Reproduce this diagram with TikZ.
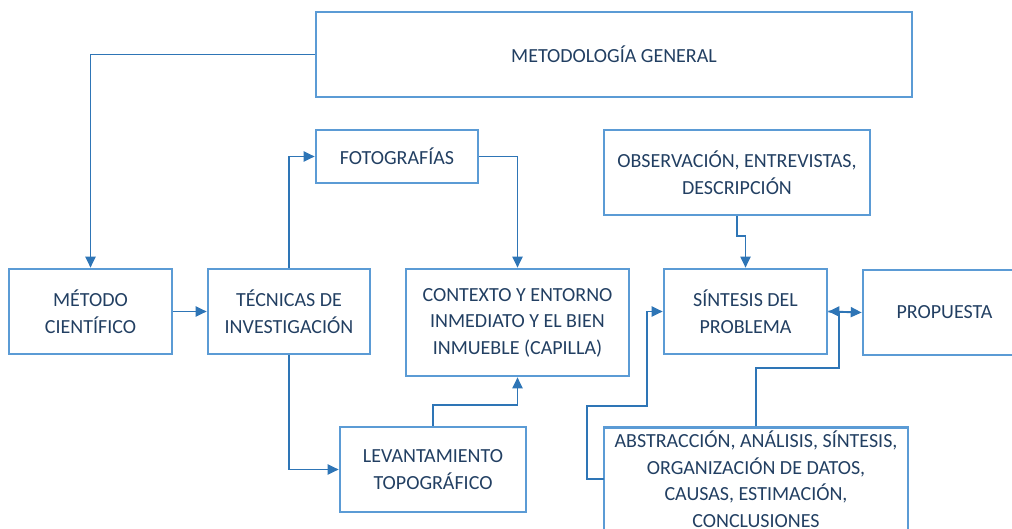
\documentclass[tikz,border=0pt]{standalone}
\usepackage{fontspec}
\setmainfont{Carlito}
\usetikzlibrary{arrows.meta,calc}
\definecolor{boxblue}{HTML}{5B9BD5}
\definecolor{linkblue}{HTML}{2E75B6}
\definecolor{txtblue}{HTML}{223F62}
\tikzset{
  box/.style={draw=boxblue, line width=2.6pt, rectangle, align=center, text=txtblue,
    font=\fontsize{20}{26.5}\selectfont, inner sep=4pt},
  arr/.style={draw=linkblue, line width=1.9pt, -{Triangle[length=11pt,width=10pt]}},
  link/.style={draw=linkblue, line width=1.9pt}
}
\begin{document}
\begin{tikzpicture}[x=1pt,y=-1pt]
\useasboundingbox (0,0) rectangle (1012,529);
\clip (0,0) rectangle (1012,529);
\node[box, minimum width=596pt, minimum height=85pt] (met) at (614,54.5) {METODOLOGÍA GENERAL};
\node[box, minimum width=162pt, minimum height=53pt] (foto) at (397,156.5) {FOTOGRAFÍAS};
\node[box, minimum width=266pt, minimum height=85pt] (obs) at (737,172.5) {OBSERVACIÓN, ENTREVISTAS,\\DESCRIPCIÓN};
\node[box, minimum width=163pt, minimum height=85pt] (mc) at (90.5,311.5) {MÉTODO\\CIENTÍFICO};
\node[box, minimum width=162pt, minimum height=85pt] (tec) at (289,311.5) {TÉCNICAS DE\\INVESTIGACIÓN};
\node[box, minimum width=223pt, minimum height=107pt] (ctx) at (517.5,322.5) {CONTEXTO Y ENTORNO\\INMEDIATO Y EL BIEN\\INMUEBLE (CAPILLA)};
\node[box, minimum width=163pt, minimum height=85pt] (sin) at (745.5,311.5) {SÍNTESIS DEL\\PROBLEMA};
\node[box, minimum width=163pt, minimum height=85pt] (prop) at (944.5,312.5) {PROPUESTA};
\node[box, minimum width=186pt, minimum height=85pt] (lev) at (433,469.5) {LEVANTAMIENTO\\TOPOGRÁFICO};
\node[box, minimum width=304pt, anchor=north, text height=96pt, text depth=30pt] (abs) at (756,426) {ABSTRACCIÓN, ANÁLISIS, SÍNTESIS,\\ORGANIZACIÓN DE DATOS,\\CAUSAS, ESTIMACIÓN,\\CONCLUSIONES};
\coordinate (absl) at (604,479);

\draw[arr] (met.west) -| (mc.north);
\draw[arr] (tec.north) |- (foto.west);
\draw[arr] (foto.east) -| (ctx.north);
\draw[arr] (obs.south) -- ++(0,20) -| (sin.north);
\draw[arr] (mc.east) -- (tec.west);
\draw[arr] (tec.south) |- (lev.west);
\draw[arr] (lev.north) -- ++(0,-21) -| (ctx.south);
\draw[arr] (absl) -- ++(-17,0) -- ++(0,-73) -- ++(60,0) |- (sin.west);
\draw[arr] (abs.north) -- ++(0,-58) -- ++(83,0) |- (sin.east);
\draw[arr] (sin.east) -- (prop.west);
\end{tikzpicture}
\end{document}
